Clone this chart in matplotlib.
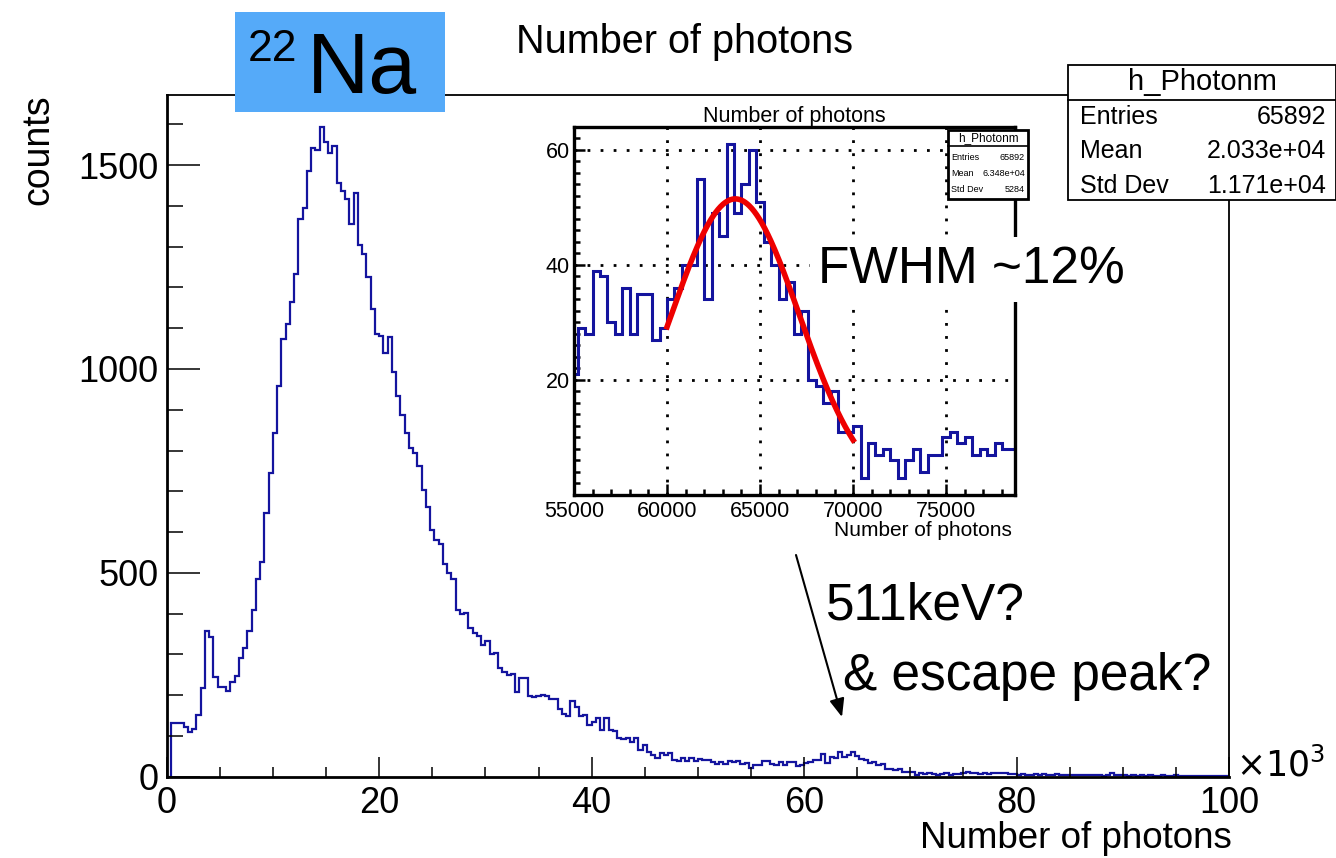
import numpy as np
import matplotlib
matplotlib.use("Agg")
import matplotlib.pyplot as plt
from matplotlib.patches import Rectangle
from matplotlib.lines import Line2D
from matplotlib.ticker import MultipleLocator

plt.rcParams['font.family'] = ['Liberation Sans', 'DejaVu Sans']

# ---------------- data ----------------
BIN_WIDTH = 400
X_MAX = 100000
# counts per 400-photon bin
counts_0_10k = [0, 132, 132, 131, 121, 110, 116, 151, 217, 358, 342, 245, 221, 221, 211,
                233, 247, 290, 315, 358, 409, 484, 527, 647, 745]
counts_10_20k = [842, 958, 1074, 1110, 1165, 1234, 1367, 1396, 1485, 1541, 1537, 1594, 1556,
                 1529, 1547, 1455, 1436, 1418, 1355, 1432, 1304, 1282, 1226, 1146, 1087]
counts_20_30k = [1082, 1038, 1079, 993, 934, 887, 844, 805, 795, 763, 703, 662, 605, 580, 571,
                 521, 499, 485, 410, 400, 402, 364, 353, 345, 322]
counts_30_40k = [333, 300, 303, 267, 257, 250, 251, 207, 241, 241, 198, 195, 198, 201, 198,
                 190, 190, 165, 155, 150, 186, 170, 149, 152, 127]
counts_40_55k = [133, 143, 115, 143, 115, 112, 94, 92, 95, 85, 94, 65, 78, 61, 52, 47, 57, 53,
                 57, 42, 39, 45, 39, 45, 39, 43, 41, 41, 37, 30, 37, 30, 39, 37, 38, 31, 34]
counts_55_79k = [21, 29, 28, 39, 38, 30, 28, 36, 28, 35, 35, 27, 29, 34, 36, 40, 40, 55, 34, 49,
                 45, 61, 49, 54, 60, 51, 44, 40, 34, 37, 28, 32, 20, 19, 16, 18, 11, 11, 12, 3,
                 9, 7, 8, 6, 3, 6, 8, 4, 7, 7, 10, 11, 9, 10, 7, 8, 7, 9, 8, 8]
counts_79_100k = [8, 6, 7, 5, 6, 4, 5, 6, 5, 6, 4, 5, 6, 4, 5, 3, 4, 5, 3, 4, 5, 4, 3, 2, 5, 10,
                  3, 4, 3, 2, 3, 2, 3, 2, 3, 2, 2, 3, 2, 2, 3, 2, 1, 2, 2, 1, 2, 1, 2, 1, 2, 1, 1]

counts = np.array(counts_0_10k + counts_10_20k + counts_20_30k + counts_30_40k +
                  counts_40_55k + counts_55_79k + counts_79_100k, dtype=float)
edges = np.arange(len(counts) + 1) * BIN_WIDTH

x_major = [0, 20000, 40000, 60000, 80000, 100000]
x_labels = ["0", "20", "40", "60", "80", "100"]
y_major = [0, 500, 1000, 1500]

inset_x_major = [55000, 60000, 65000, 70000, 75000]
inset_y_major = [20, 40, 60]

# Gaussian fit shown in the inset (amplitude, mean, sigma, range)
fit_amp, fit_mean, fit_sigma = 51.5, 63670.0, 3450.0
fit_lo, fit_hi = 60000, 70000

stats_main = [("Entries", "65892"), ("Mean", "2.033e+04"), ("Std Dev", "1.171e+04")]
stats_inset = [("Entries", "65892"), ("Mean", "6.348e+04"), ("Std Dev", "5284")]

# ---------------- figure ----------------
W, H = 1336, 858
fig = plt.figure(figsize=(W / 100, H / 100), dpi=100)
fig.patch.set_facecolor("white")

def fx(x):
    return x / W

def fy(y):
    return 1 - y / H

HIST_COLOR = "#14149e"

# main axes
L, R, T, B = 166.7, 1229, 95, 776.7
ax = fig.add_axes([fx(L), fy(B), (R - L) / W, (B - T) / H])
ax.stairs(counts, edges, color=HIST_COLOR, lw=1.6)
ax.set_xlim(0, X_MAX)
ax.set_ylim(0, 1672)
ax.set_xticks(x_major)
ax.set_xticklabels(x_labels)
ax.xaxis.set_minor_locator(MultipleLocator(5000))
ax.set_yticks(y_major)
ax.yaxis.set_minor_locator(MultipleLocator(100))
ax.tick_params(axis="both", direction="in", labelsize=26, width=1.1, color="black")
ax.tick_params(axis="x", which="major", length=14.4, pad=7)
ax.tick_params(axis="x", which="minor", length=7.2, width=1.1, direction="in")
ax.tick_params(axis="y", which="major", length=24, pad=6)
ax.tick_params(axis="y", which="minor", length=11.5, width=1.1, direction="in")
for s in ["left", "bottom"]:
    ax.spines[s].set_linewidth(2.0)
for s in ["top", "right"]:
    ax.spines[s].set_linewidth(1.3)

fig.text(fx(38), fy(150), "counts", rotation=90, ha="center", va="center", fontsize=27)
fig.text(fx(1232), fy(838), "Number of photons", ha="right", va="center", fontsize=26.5)
fig.text(fx(1236), fy(765), r"$\times10^{3}$", ha="left", va="center", fontsize=25)
fig.text(fx(685), fy(42), "Number of photons", ha="center", va="center", fontsize=28.5)

# stats box (main)
fig.patches.append(Rectangle((fx(1068), fy(200)), (1336 - 1068) / W, (200 - 65) / H,
                             transform=fig.transFigure, facecolor="white",
                             edgecolor="black", lw=1.3, zorder=5))
fig.lines.append(Line2D([fx(1068), fx(1336)], [fy(100), fy(100)], transform=fig.transFigure,
                        color="black", lw=1.3, zorder=6))
fig.text(fx(1202), fy(82), "h_Photonm", ha="center", va="center", fontsize=21, zorder=7)
for i, (k, v) in enumerate(stats_main):
    yy = 117 + i * 34.5
    fig.text(fx(1080), fy(yy), k, ha="left", va="center", fontsize=18, zorder=7)
    fig.text(fx(1326), fy(yy), v, ha="right", va="center", fontsize=18, zorder=7)

# 22Na label
fig.patches.append(Rectangle((fx(235), fy(112)), (445 - 235) / W, (112 - 12) / H,
                             transform=fig.transFigure, facecolor="#55aaf9",
                             edgecolor="none", zorder=5))
fig.text(fx(248), fy(61), "22", ha="left", va="baseline", fontsize=32, zorder=7)
fig.text(fx(307), fy(93), "Na", ha="left", va="baseline", fontsize=62, zorder=7)

# inset axes
iL, iR, iT, iB = 574, 1015, 127, 495
axi = fig.add_axes([fx(iL), fy(iB), (iR - iL) / W, (iB - iT) / H])
axi.set_facecolor("white")
axi.stairs(counts, edges, color=HIST_COLOR, lw=2.2)
xf = np.linspace(fit_lo, fit_hi, 300)
axi.plot(xf, fit_amp * np.exp(-0.5 * ((xf - fit_mean) / fit_sigma) ** 2), color="#ee0000", lw=4)
axi.set_xlim(55000, 78700)
axi.set_ylim(0, 64)
axi.set_xticks(inset_x_major)
axi.xaxis.set_minor_locator(MultipleLocator(1000))
axi.set_yticks(inset_y_major)
axi.yaxis.set_minor_locator(MultipleLocator(2))
axi.tick_params(axis="both", direction="in", labelsize=15.5, width=1.8)
axi.tick_params(axis="x", which="major", length=8, pad=4)
axi.tick_params(axis="x", which="minor", length=4, width=1.8, direction="in")
axi.tick_params(axis="y", which="major", length=8, pad=3)
axi.tick_params(axis="y", which="minor", length=4, width=1.8, direction="in")
for s in axi.spines.values():
    s.set_linewidth(2.4)
axi.grid(True, which="major", color="black", lw=2.0, linestyle=(0, (1, 3.7)))
axi.set_axisbelow(True)
axi.set_title("Number of photons", fontsize=15.5, pad=2)
fig.text(fx(1012), fy(530), "Number of photons", ha="right", va="center", fontsize=15)

# inset stats box
fig.patches.append(Rectangle((fx(948), fy(199)), (1028 - 948) / W, (199 - 130) / H,
                             transform=fig.transFigure, facecolor="white",
                             edgecolor="black", lw=2.0, zorder=8))
fig.lines.append(Line2D([fx(948), fx(1028)], [fy(145.7), fy(145.7)], transform=fig.transFigure,
                        color="black", lw=1.2, zorder=9))
fig.text(fx(988), fy(138), "h_Photonm", ha="center", va="center", fontsize=8.5, zorder=10)
for i, (k, v) in enumerate(stats_inset):
    yy = 157 + i * 16.5
    fig.text(fx(951), fy(yy), k, ha="left", va="center", fontsize=6.5, zorder=10)
    fig.text(fx(1025), fy(yy), v, ha="right", va="center", fontsize=6.5, zorder=10)

# annotations
fig.text(fx(818), fy(283), "FWHM ~12%", ha="left", va="baseline", fontsize=37, zorder=11,
         bbox=dict(facecolor="white", edgecolor="none", pad=6))
fig.text(fx(826), fy(620), "511keV?", ha="left", va="baseline", fontsize=37, zorder=11)
fig.text(fx(843), fy(690), "& escape peak?", ha="left", va="baseline", fontsize=37, zorder=11)
ax.annotate("", xy=(fx(842), fy(717)), xytext=(fx(796), fy(555)),
            xycoords="figure fraction", textcoords="figure fraction",
            arrowprops=dict(arrowstyle="-|>,head_length=1.1,head_width=0.45", color="black",
                            lw=1.5, shrinkA=0, shrinkB=0))

fig.savefig("out.png", dpi=100)
